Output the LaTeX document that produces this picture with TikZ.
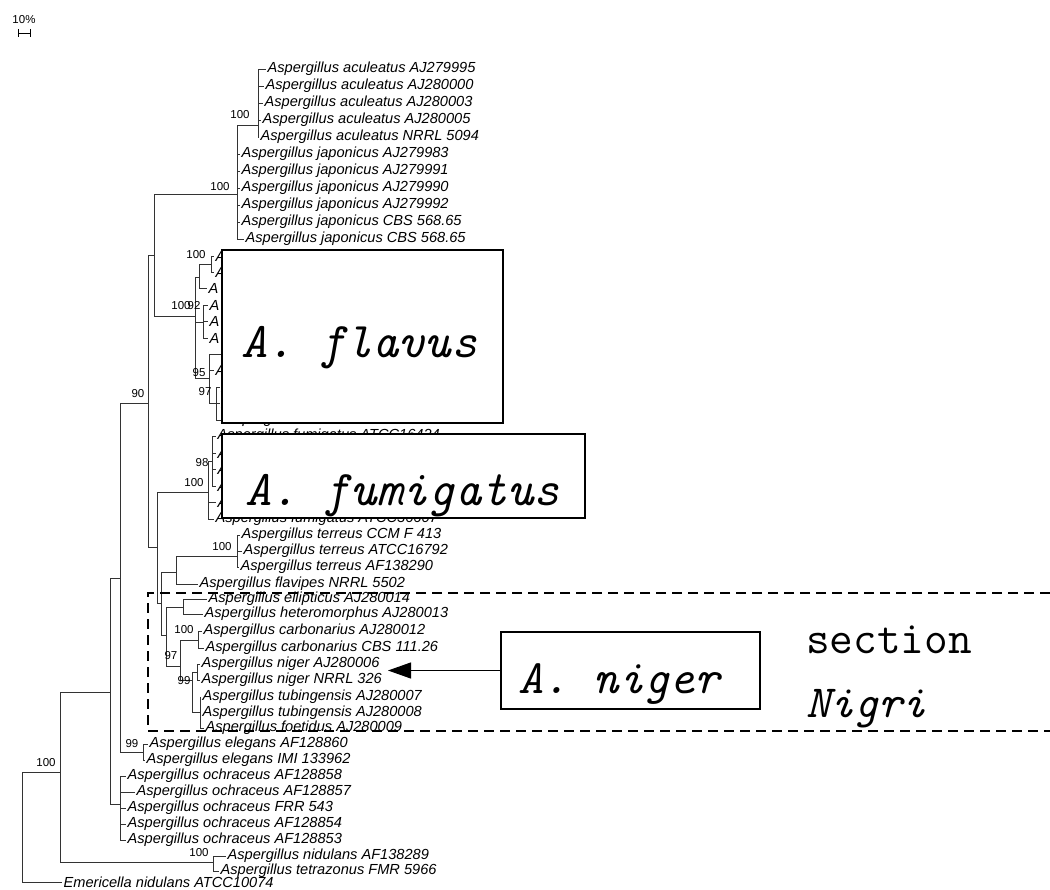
\documentclass[tikz,border=0pt]{standalone}
\usepackage{fontspec}
\newfontfamily\leaffont{Liberation Sans}
\usetikzlibrary{arrows.meta}

\begin{document}
\begin{tikzpicture}[x=1pt, y=-1pt,
    br/.style={line width=0.9pt, black!80},
    leaf/.style={anchor=west, inner sep=1.5pt, font=\leaffont\itshape\fontsize{14.6}{15}\selectfont},
    boot/.style={inner sep=0pt, font=\leaffont\fontsize{11.5}{12}\selectfont},
    bigbox/.style={draw=black, line width=1.6pt, fill=white, rectangle, inner sep=0pt},
    bigtext/.style={anchor=base west, inner sep=0pt, font=\ttfamily\itshape\fontsize{50}{52}\selectfont}]
      \fill[white] (0,0) rectangle (1050,890);
      \useasboundingbox (0,0) rectangle (1050,890);
      %
      \node[boot] (scalelbl) at (24,20) {10\%};
      \draw[line width=0.9pt] (18,29) -- (18,37) (18,33) -- (30,33) (30,29) -- (30,37);
      %
      \coordinate (top) at (237,194);
      \coordinate (acu) at (258,125);
      \node[leaf] (ac1) at (266,69) {Aspergillus aculeatus AJ279995};
      \node[leaf] (ac2) at (264,86) {Aspergillus aculeatus AJ280000};
      \node[leaf] (ac3) at (263,103) {Aspergillus aculeatus AJ280003};
      \node[leaf] (ac4) at (261,120) {Aspergillus aculeatus AJ280005};
      \node[leaf] (ac5) at (259,137) {Aspergillus aculeatus NRRL 5094};
      \node[leaf] (ja1) at (240,154) {Aspergillus japonicus AJ279983};
      \node[leaf] (ja2) at (240,171) {Aspergillus japonicus AJ279991};
      \node[leaf] (ja3) at (240,188) {Aspergillus japonicus AJ279990};
      \node[leaf] (ja4) at (240,205) {Aspergillus japonicus AJ279992};
      \node[leaf] (ja5) at (240,222) {Aspergillus japonicus CBS 568.65};
      \node[leaf] (ja6) at (244,239) {Aspergillus japonicus CBS 568.65};
      \foreach \l in {ac1,ac2,ac3,ac4,ac5} \draw[br] (acu) |- (\l.west);
      \foreach \l in {ja1,ja2,ja3,ja4,ja5,ja6} \draw[br] (top) |- (\l.west);
      \draw[br] (top) |- (acu);
      %
      \coordinate (flav) at (195,316);
      \coordinate (f199) at (199,277);
      \coordinate (f211) at (211,264);
      \coordinate (f203) at (203,322);
      \coordinate (f209) at (209,378);
      \coordinate (f216) at (216,403);
      \node[leaf] (fl1) at (214,256) {A};
      \node[leaf] (fl2) at (214,272) {A};
      \node[leaf] (fl3) at (207,288) {A};
      \node[leaf] (fl4) at (208,305) {A};
      \node[leaf] (fl5) at (208,321) {A};
      \node[leaf] (fl6) at (208,338) {A};
      \node[leaf] (fl7) at (222,354) {A};
      \node[leaf] (fl8) at (214,370) {A};
      \node[leaf] (fl9) at (220,387) {A};
      \node[leaf] (fl10) at (220,403) {A};
      \node[leaf] (fl11) at (224,420) {Aspergillus flavus CBS 116.32};
      \draw[br] (f211) |- (fl1.west) (f211) |- (fl2.west);
      \draw[br] (f199) |- (f211) (f199) |- (fl3.west);
      \foreach \l in {fl4,fl5,fl6} \draw[br] (f203) |- (\l.west);
      \foreach \l in {fl9,fl10,fl11} \draw[br] (f216) |- (\l.west);
      \draw[br] (f209) |- (fl7.west) (f209) |- (fl8.west) (f209) |- (f216);
      \draw[br] (flav) |- (f199) (flav) |- (f203) (flav) |- (f209);
      %
      \coordinate (fum) at (208,492);
      \coordinate (f212) at (212,461);
      \node[leaf] (fu1) at (216,436) {Aspergillus fumigatus ATCC16424};
      \node[leaf] (fu2) at (216,453) {A};
      \node[leaf] (fu3) at (216,469) {A};
      \node[leaf] (fu4) at (216,486) {A};
      \node[leaf] (fu5) at (216,502) {A};
      \node[leaf] (fu6) at (214,519) {Aspergillus fumigatus ATCC36607};
      \foreach \l in {fu1,fu2,fu3,fu4} \draw[br] (f212) |- (\l.west);
      \draw[br] (fum) |- (f212) (fum) |- (fu5.west) (fum) |- (fu6.west);
      %
      \coordinate (ter) at (176,572);
      \coordinate (trr) at (237,556);
      \node[leaf] (te1) at (240,535) {Aspergillus terreus CCM F 413};
      \node[leaf] (te2) at (242,551) {Aspergillus terreus ATCC16792};
      \node[leaf] (te3) at (239,567) {Aspergillus terreus AF138290};
      \node[leaf] (fp1) at (198,584) {Aspergillus flavipes NRRL 5502};
      \foreach \l in {te1,te2,te3} \draw[br] (trr) |- (\l.west);
      \draw[br] (ter) |- (trr) (ter) |- (fp1.west);
      %
      \coordinate (nig) at (166,635);
      \coordinate (ell) at (183,607);
      \coordinate (c97) at (180,666);
      \coordinate (carb) at (198,640);
      \coordinate (n99) at (192,680);
      \coordinate (ng) at (197,672);
      \coordinate (tub) at (200,712);
      \node[leaf] (el1) at (207,599) {Aspergillus ellipticus AJ280014};
      \node[leaf] (he1) at (203,614) {Aspergillus heteromorphus AJ280013};
      \node[leaf] (ca1) at (202,631) {Aspergillus carbonarius AJ280012};
      \node[leaf] (ca2) at (204,648) {Aspergillus carbonarius CBS 111.26};
      \node[leaf] (ni1) at (200,664) {Aspergillus niger AJ280006};
      \node[leaf] (ni2) at (200,680) {Aspergillus niger NRRL 326};
      \node[leaf] (tu1) at (201,697) {Aspergillus tubingensis AJ280007};
      \node[leaf] (tu2) at (201,713) {Aspergillus tubingensis AJ280008};
      \node[leaf] (fo1) at (204,728) {Aspergillus foetidus AJ280009};
      \draw[br] (ell) |- (el1.west) (ell) |- (he1.west);
      \draw[br] (carb) |- (ca1.west) (carb) |- (ca2.west);
      \draw[br] (ng) |- (ni1.west) (ng) |- (ni2.west);
      \foreach \l in {tu1,tu2,fo1} \draw[br] (tub) |- (\l.west);
      \draw[br] (n99) |- (ng) (n99) |- (tub);
      \draw[br] (c97) |- (carb) (c97) |- (n99);
      \draw[br] (nig) |- (ell) (nig) |- (c97);
      %
      \coordinate (n161) at (161,603);
      \coordinate (n157) at (157,547);
      \coordinate (n154) at (154,255);
      \coordinate (n148) at (148,403);
      \draw[br] (n161) |- (ter) (n161) |- (nig);
      \draw[br] (n157) |- (fum) (n157) |- (n161);
      \draw[br] (n154) |- (top) (n154) |- (flav);
      \draw[br] (n148) |- (n154) (n148) |- (n157);
      %
      \coordinate (eleg) at (143,752);
      \coordinate (och) at (120,804);
      \coordinate (n120) at (120,578);
      \coordinate (n110) at (110,692);
      \node[leaf] (eg1) at (148,744) {Aspergillus elegans AF128860};
      \node[leaf] (eg2) at (145,760) {Aspergillus elegans IMI 133962};
      \node[leaf] (oc1) at (126,776) {Aspergillus ochraceus AF128858};
      \node[leaf] (oc2) at (135,792) {Aspergillus ochraceus AF128857};
      \node[leaf] (oc3) at (126,808) {Aspergillus ochraceus FRR 543};
      \node[leaf] (oc4) at (126,824) {Aspergillus ochraceus AF128854};
      \node[leaf] (oc5) at (126,840) {Aspergillus ochraceus AF128853};
      \draw[br] (eleg) |- (eg1.west) (eleg) |- (eg2.west);
      \foreach \l in {oc1,oc2,oc3,oc4,oc5} \draw[br] (och) |- (\l.west);
      \draw[br] (n120) |- (n148) (n120) |- (eleg);
      \draw[br] (n110) |- (n120) (n110) |- (och);
      %
      \coordinate (nid) at (213,862);
      \coordinate (n60) at (60,772);
      \coordinate (root) at (22,829);
      \node[leaf] (nd1) at (226,856) {Aspergillus nidulans AF138289};
      \node[leaf] (tz1) at (219,871) {Aspergillus tetrazonus FMR 5966};
      \node[leaf] (em1) at (62,882) {Emericella nidulans ATCC10074};
      \draw[br] (nid) |- (nd1.west) (nid) |- (tz1.west);
      \draw[br] (n60) |- (n110) (n60) |- (nid);
      \draw[br] (root) |- (n60) (root) |- (em1.west);
      %
      \node[boot] (b1) at (240,115) {100};
      \node[boot] (b2) at (220,187) {100};
      \node[boot] (b3) at (196,255) {100};
      \node[boot] (b4) at (181,306) {100};
      \node[boot] (b5) at (194,306) {92};
      \node[boot] (b6) at (199,373) {95};
      \node[boot] (b7) at (205,392) {97};
      \node[boot] (b8) at (138,394) {90};
      \node[boot] (b9) at (202,463) {98};
      \node[boot] (b10) at (194,483) {100};
      \node[boot] (b11) at (222,547) {100};
      \node[boot] (b12) at (184,630) {100};
      \node[boot] (b13) at (171,656) {97};
      \node[boot] (b14) at (184,681) {99};
      \node[boot] (b15) at (132,744) {99};
      \node[boot] (b16) at (46,763) {100};
      \node[boot] (b17) at (199,853) {100};
      %
      \node[bigbox, minimum width=281pt, minimum height=173pt] (flavusbox) at (362.5,336.5) {};
      \node[bigtext] (flavuslbl) at (241,358) {A. flavus};
      \node[bigbox, minimum width=363pt, minimum height=84pt] (fumbox) at (403.5,476) {};
      \node[bigtext] (fumlbl) at (245,505) {A. fumigatus};
      \node[bigbox, minimum width=259pt, minimum height=77pt] (nigerbox) at (630.5,670.5) {};
      \node[bigtext, font=\ttfamily\itshape\fontsize{48}{50}\selectfont] (nigerlbl) at (518,693) {A. niger};
      \coordinate (arrowtip) at (388,670.5);
      \draw[-{Triangle[length=23pt,width=16pt]}, line width=1.2pt] (nigerbox.west) -- (arrowtip);
      %
      \node[anchor=base west, inner sep=0pt, font=\ttfamily\fontsize{46}{48}\selectfont] (sectlbl) at (806,653) {section};
      \node[anchor=base west, inner sep=0pt, font=\ttfamily\itshape\fontsize{46}{48}\selectfont] (nigrilbl) at (806,717) {Nigri};
      \draw[line width=2.6pt, dash pattern=on 10pt off 6pt] (1050,593) -- (148,593) -- (148,731) -- (1050,731);
    \end{tikzpicture}
\end{document}
